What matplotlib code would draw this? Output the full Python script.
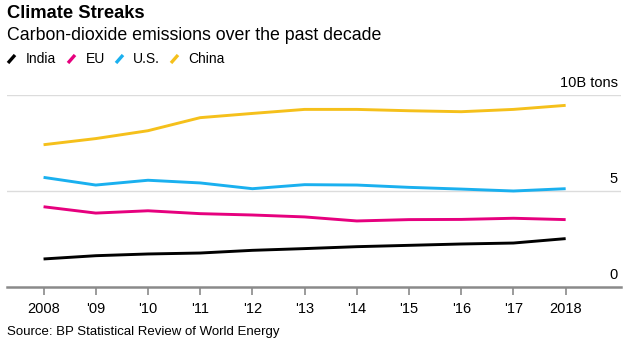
import matplotlib
matplotlib.use("Agg")
import matplotlib.pyplot as plt
from matplotlib.lines import Line2D
import matplotlib.transforms as mtransforms

plt.rcParams['font.family'] = ['Liberation Sans', 'DejaVu Sans']

years = [2008, 2009, 2010, 2011, 2012, 2013, 2014, 2015, 2016, 2017, 2018]
year_labels = ['2008', "'09", "'10", "'11", "'12", "'13", "'14", "'15", "'16", "'17", '2018']
india = [1.46, 1.63, 1.72, 1.77, 1.91, 2.00, 2.10, 2.17, 2.24, 2.29, 2.52]
eu = [4.18, 3.85, 3.97, 3.82, 3.75, 3.65, 3.44, 3.51, 3.52, 3.58, 3.51]
us = [5.71, 5.31, 5.56, 5.42, 5.12, 5.33, 5.31, 5.19, 5.10, 5.00, 5.12]
china = [7.41, 7.73, 8.14, 8.82, 9.04, 9.25, 9.25, 9.18, 9.13, 9.25, 9.46]
series_names = ['India', 'EU', 'U.S.', 'China']
series_values = [india, eu, us, china]
series_colors = ['#000000', '#e6007e', '#1ab0ef', '#f5c01b']
y_ticks = [0, 5, 10]
y_tick_labels = ['0', '5', '10B tons']

W, H = 629, 339
fig = plt.figure(figsize=(W / 100, H / 100), dpi=100)
ax = fig.add_axes([7 / W, 1 - 287 / H, (621 - 7) / W, (287 - 95) / H])

for name, vals, col in zip(series_names, series_values, series_colors):
    ax.plot(years, vals, color=col, lw=2.1, solid_capstyle='butt', zorder=3)

ax.set_xlim(2007.30, 2019.06)
ax.set_ylim(0, 10)

for s in ['top', 'right', 'left']:
    ax.spines[s].set_visible(False)
ax.spines['bottom'].set_color('#8a8a8a')
ax.spines['bottom'].set_linewidth(1.8)

for yt in y_ticks[1:]:
    ax.axhline(yt, color='#dcdcdc', lw=1.0, zorder=1)

ax.set_yticks([])
ax.set_xticks(years)
ax.set_xticklabels(year_labels, fontsize=10.5, color='#000000')
ax.tick_params(axis='x', length=6, width=1.2, color='#8a8a8a', pad=5)

trans = mtransforms.blended_transform_factory(ax.transAxes, ax.transData)
offset = mtransforms.ScaledTranslation(0, 5 / 100, fig.dpi_scale_trans)
for yt, lab in zip(y_ticks, y_tick_labels):
    ax.text(611 / 614, yt, lab, transform=trans + offset, ha='right', va='bottom',
            fontsize=10.5, color='#000000', clip_on=False)

# Titles
fig.text(7 / W, 1 - 18 / H, 'Climate Streaks', fontsize=13.2, fontweight='bold', ha='left', va='baseline')
fig.text(7 / W, 1 - 39.5 / H, 'Carbon-dioxide emissions over the past decade', fontsize=12.8, ha='left', va='baseline')

# Legend
leg_x = [8, 68, 116, 171]
txt_x = [26, 86, 133, 188]
for lx, tx, name, col in zip(leg_x, txt_x, series_names, series_colors):
    fig.add_artist(Line2D([lx / W, (lx + 7) / W], [1 - 63 / H, 1 - 55 / H], color=col, lw=2.4,
                          solid_capstyle='butt', transform=fig.transFigure))
    fig.text(tx / W, 1 - 63 / H, name, fontsize=10, ha='left', va='baseline')

fig.text(7 / W, 1 - 335 / H, 'Source: BP Statistical Review of World Energy', fontsize=9.5,
         ha='left', va='baseline', color='#000000')

fig.savefig('out.png', dpi=100, facecolor='white')
